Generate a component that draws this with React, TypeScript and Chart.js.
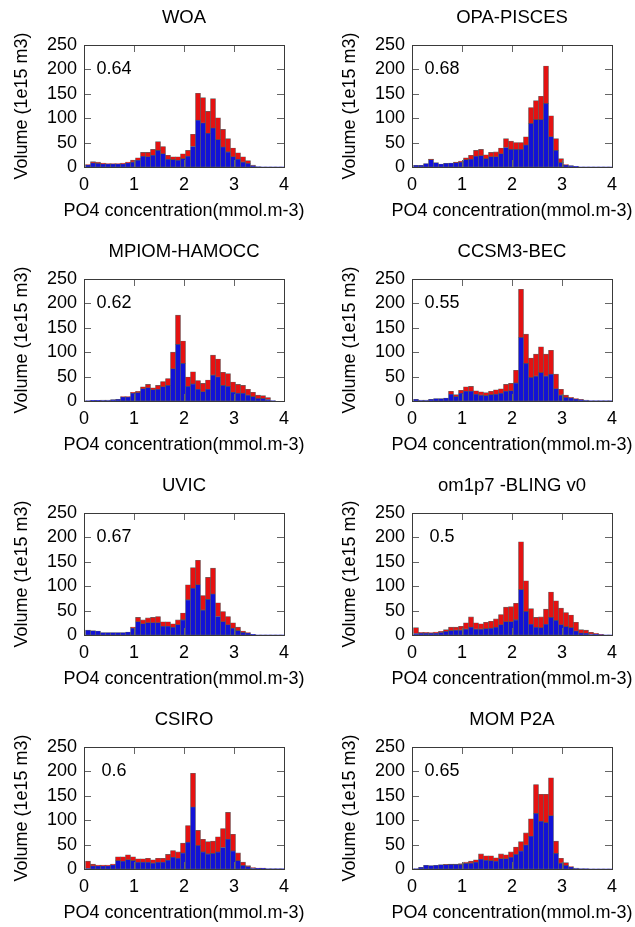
import React, { useEffect, useRef } from "react";
import { Chart, registerables } from "chart.js";

Chart.register(...registerables);

const FONT = "'Liberation Sans', Arial, Helvetica, sans-serif";
const BLUE = "rgb(18,18,215)";
const RED = "rgb(228,18,18)";
const EDGE = "rgba(70,70,70,0.85)";

// bin centres of the histogram (mmol.m-3)
const BIN_CENTERS = [
  0.08, 0.18, 0.28, 0.38, 0.48, 0.58, 0.68, 0.78, 0.88, 0.98,
  1.08, 1.18, 1.28, 1.38, 1.48, 1.58, 1.68, 1.78, 1.88, 1.98,
  2.08, 2.18, 2.28, 2.38, 2.48, 2.58, 2.68, 2.78, 2.88, 2.98,
  3.08, 3.18, 3.28, 3.38, 3.48, 3.58, 3.68, 3.78, 3.88, 3.98,
];

const X_TITLE = "PO4 concentration(mmol.m-3)";
const Y_TITLE = "Volume (1e15 m3)";

// WOA
const WOA_TOTAL = [5, 11, 10, 8, 7, 7, 7, 8, 10, 14, 19, 30, 30, 36, 52, 42, 24, 21, 21, 27, 34, 67, 151, 142, 114, 140, 101, 77, 58, 39, 29, 21, 13, 4, 1, 0.5, 0.5, 0.5, 0.5, 0.5];
const WOA_BLUE = [4, 8, 7, 6, 6, 6, 6, 6, 8, 10, 14, 22, 21, 24, 34, 27, 16, 15, 14, 17, 22, 42, 96, 90, 69, 80, 56, 41, 31, 21, 16, 10, 7, 3, 1, 0.5, 0.5, 0.5, 0.5, 0.5];

// OPA-PISCES
const OPA_TOTAL = [3.5, 3.5, 7, 16, 9, 6, 7.5, 8, 10, 12, 19, 24, 34, 36, 25, 30, 31, 39, 58, 53, 50, 50, 62, 122, 136, 145, 207, 105, 58, 17, 5, 3, 1.5, 0.5, 0.5, 0.5, 0.5, 0.5, 0.5, 0.5];
const OPA_BLUE = [3.5, 3.5, 7, 15, 9, 6, 7.5, 8, 9, 10, 15, 16, 22, 23, 17, 21, 21, 27, 40, 36, 36, 36, 45, 89, 97, 97, 130, 62, 34, 9, 4, 3, 1.5, 0.5, 0.5, 0.5, 0.5, 0.5, 0.5, 0.5];

// MPIOM-HAMOCC
const MPIOM_TOTAL = [1, 1.5, 1.5, 2, 2, 3, 3.5, 9, 9, 18, 20, 29, 34, 27, 32, 40, 46, 100, 176, 123, 49, 60, 42, 36, 43, 94, 86, 59, 56, 39, 34, 32, 24, 18, 12, 11, 7, 1, 0, 0];
const MPIOM_BLUE = [1, 1.5, 1.5, 2, 2, 3, 3.5, 8, 8, 16, 17, 25, 27, 23, 24, 29, 32, 66, 116, 77, 30, 35, 24, 19, 24, 53, 49, 32, 30, 18, 16, 16, 12, 9, 5, 5, 3, 1, 0, 0];

// CCSM3-BEC
const CCSM_TOTAL = [3.5, 2, 2, 3.5, 5, 5, 6, 20, 13, 22, 29, 30, 21, 19, 17, 20, 23, 25, 34, 36, 63, 229, 137, 88, 96, 111, 96, 104, 55, 24, 12, 7.5, 5, 3.5, 2, 1, 1, 1, 1, 1];
const CCSM_BLUE = [3.5, 2, 2, 3.5, 5, 5, 6, 14, 9, 16, 20, 20, 14, 12, 11, 13, 14, 16, 20, 21, 37, 130, 77, 48, 51, 58, 51, 55, 25, 12, 7, 6, 4, 3, 2, 1, 1, 1, 1, 1];

// UVIC
const UVIC_TOTAL = [10, 9, 8, 5, 5, 5, 5, 5, 6, 16, 36, 31, 35, 36, 38, 27, 27, 23, 31, 45, 103, 138, 153, 81, 118, 137, 66, 48, 38, 25, 16, 8, 5, 1.5, 0.5, 0.5, 0.5, 0.5, 0.5, 0.5];
const UVIC_BLUE = [10, 9, 8, 5, 5, 5, 5, 5, 6, 14, 27, 23, 25, 25, 25, 18, 18, 16, 21, 31, 72, 96, 103, 51, 73, 84, 38, 27, 21, 14, 9, 5, 4, 1.5, 0.5, 0.5, 0.5, 0.5, 0.5, 0.5];

// om1p7 -BLING v0
const BLING_TOTAL = [15, 5.5, 5.5, 5, 6, 7.5, 11, 16, 16, 18, 25, 37, 25, 23, 26, 28, 33, 42, 57, 58, 65, 191, 111, 54, 36, 37, 53, 88, 70, 55, 46, 41, 26, 11, 10, 5.5, 3.5, 1.5, 0.5, 0.5];
const BLING_BLUE = [3, 3.5, 3.5, 3.5, 3.5, 5, 7, 9, 10, 10, 12, 16, 12, 12, 13, 14, 16, 21, 27, 27, 31, 93, 48, 22, 16, 15, 22, 36, 30, 21, 17, 15, 8, 4, 3.5, 2, 1.5, 1, 0.5, 0.5];

// CSIRO
const CSIRO_TOTAL = [16, 10, 8, 8, 8, 10, 25, 25, 29, 25, 21, 21, 22, 19, 22, 22, 30, 38, 35, 53, 89, 196, 79, 61, 56, 57, 66, 83, 116, 71, 33, 14, 7, 3, 2, 2, 1, 1, 1, 1];
const CSIRO_BLUE = [1, 6, 6, 6, 6, 8, 17, 16, 19, 17, 14, 14, 14, 12, 14, 14, 18, 24, 22, 33, 55, 127, 48, 35, 31, 32, 35, 44, 61, 37, 17, 7, 5, 2, 1.5, 1.5, 1, 1, 1, 1];

// MOM P2A
const MOM_TOTAL = [1, 3.5, 7.5, 7, 7.5, 9, 9.5, 10, 10, 11, 14, 16, 19, 31, 27, 27, 23, 31, 29, 35, 45, 56, 74, 103, 173, 153, 153, 187, 57, 22, 13, 5, 2, 0.7, 0.7, 0.5, 0.5, 0.5, 0.5, 0.5];
const MOM_BLUE = [1, 3.5, 7.5, 7, 7.5, 9, 9, 9.5, 9.5, 9.5, 11.5, 12, 14, 20, 18, 17, 16, 21, 21, 24, 30, 37, 49, 67, 114, 98, 95, 109, 32, 12, 7, 4, 2, 0.7, 0.7, 0.5, 0.5, 0.5, 0.5, 0.5];

const TITLES = ["WOA", "OPA-PISCES", "MPIOM-HAMOCC", "CCSM3-BEC", "UVIC", "om1p7 -BLING v0", "CSIRO", "MOM P2A"];
const SCORES = ["0.64", "0.68", "0.62", "0.55", "0.67", "0.5", "0.6", "0.65"];
const TOTALS = [WOA_TOTAL, OPA_TOTAL, MPIOM_TOTAL, CCSM_TOTAL, UVIC_TOTAL, BLING_TOTAL, CSIRO_TOTAL, MOM_TOTAL];
const BLUES = [WOA_BLUE, OPA_BLUE, MPIOM_BLUE, CCSM_BLUE, UVIC_BLUE, BLING_BLUE, CSIRO_BLUE, MOM_BLUE];

const SCORE_X = 0.6;
const SCORE_Y = 200;

const PLOT_LEFT = 84;
const PLOT_RIGHT = 284;
const PLOT_BOTTOM = 167;
const CANVAS_H = 225;
const X_TITLE_Y = 211;

type PanelProps = {
  title: string;
  score: string;
  blue: number[];
  total: number[];
  left: number;
  top: number;
  width: number;
};

function Panel({ title, score, blue, total, left, top, width }: PanelProps) {
  const ref = useRef<HTMLCanvasElement | null>(null);

  useEffect(() => {
    if (!ref.current) return;
    const font = { family: FONT, size: 18, weight: "normal" as const };

    const framePlugin = {
      id: "frameTicks",
      afterDraw(chart: any) {
        const { ctx, chartArea } = chart;
        const { left: l, right: r, top: t, bottom: b } = chartArea;
        const xs = chart.scales.x;
        const ys = chart.scales.y;
        const tl = 7;
        ctx.save();
        ctx.strokeStyle = "#666";
        ctx.lineWidth = 1;
        ctx.beginPath();
        xs.ticks.forEach((tk: any) => {
          const px = Math.round(xs.getPixelForValue(tk.value)) + 0.5;
          ctx.moveTo(px, b);
          ctx.lineTo(px, b - tl);
          ctx.moveTo(px, t);
          ctx.lineTo(px, t + tl);
        });
        ys.ticks.forEach((tk: any) => {
          const py = Math.round(ys.getPixelForValue(tk.value)) + 0.5;
          ctx.moveTo(l, py);
          ctx.lineTo(l + tl, py);
          ctx.moveTo(r, py);
          ctx.lineTo(r - tl, py);
        });
        ctx.stroke();
        ctx.strokeStyle = "#3a3a3a";
        ctx.strokeRect(Math.round(l) + 0.5, Math.round(t) + 0.5, Math.round(r - l), Math.round(b - t));
        ctx.fillStyle = "#000";
        ctx.font = `18px ${FONT}`;
        ctx.textAlign = "center";
        ctx.textBaseline = "middle";
        ctx.fillText(score, xs.getPixelForValue(SCORE_X), ys.getPixelForValue(SCORE_Y));
        // x-axis title (drawn without width compression)
        ctx.fillText(X_TITLE, (l + r) / 2, X_TITLE_Y);
        ctx.restore();
      },
    };

    const barCommon = {
      borderColor: EDGE,
      borderWidth: 0.6,
      borderSkipped: false,
      grouped: false,
      barPercentage: 1,
      categoryPercentage: 1,
    };

    const chart = new Chart(ref.current, {
      type: "bar",
      data: {
        datasets: [
          {
            ...barCommon,
            label: "lower",
            data: blue.map((v, i) => ({ x: BIN_CENTERS[i], y: v })),
            backgroundColor: BLUE,
          } as any,
          {
            ...barCommon,
            label: "upper",
            data: total.map((v, i) => ({ x: BIN_CENTERS[i], y: [blue[i], v] })),
            backgroundColor: RED,
          } as any,
        ],
      },
      options: {
        animation: false,
        responsive: false,
        events: [],
        layout: { padding: { left: 0, right: width - PLOT_RIGHT, top: 0, bottom: 0 } },
        plugins: {
          legend: { display: false },
          tooltip: { enabled: false },
          title: {
            display: true,
            text: title,
            fullSize: false,
            color: "#000",
            font: { family: FONT, size: 18.5, weight: "normal" },
            padding: { top: 7.2, bottom: 15.6 },
          },
        },
        scales: {
          x: {
            type: "linear",
            min: 0,
            max: 4,
            offset: false,
            grid: { display: false, drawTicks: false },
            border: { display: false },
            ticks: { stepSize: 1, color: "#000", font, padding: 7, maxRotation: 0, autoSkip: false },
            title: { display: false },
            afterFit: (s: any) => {
              s.height = CANVAS_H - PLOT_BOTTOM;
            },
          },
          y: {
            min: 0,
            max: 250,
            grid: { display: false, drawTicks: false },
            border: { display: false },
            ticks: { stepSize: 50, color: "#000", font, padding: 7, autoSkip: false },
            title: { display: true, text: Y_TITLE, color: "#000", font, padding: { top: 11, bottom: 0 } },
            afterFit: (s: any) => {
              s.width = PLOT_LEFT;
            },
          },
        },
      } as any,
      plugins: [framePlugin],
    });
    return () => chart.destroy();
  }, [title, score, blue, total, width]);

  return (
    <canvas
      ref={ref}
      width={width}
      height={CANVAS_H}
      style={{ position: "absolute", left, top, width, height: CANVAS_H, display: "block" }}
    />
  );
}

const COL_LEFT = [0, 328];
const COL_WIDTH = [317, 307];
const ROW_TOP = [0, 234, 468, 702];

export default function App() {
  return (
    <div
      style={{
        position: "absolute",
        left: 0,
        top: 0,
        width: 635,
        height: 927,
        overflow: "hidden",
        background: "#fff",
      }}
    >
      {TITLES.map((t, i) => (
        <Panel
          key={t}
          title={t}
          score={SCORES[i]}
          blue={BLUES[i]}
          total={TOTALS[i]}
          left={COL_LEFT[i % 2]}
          top={ROW_TOP[Math.floor(i / 2)]}
          width={COL_WIDTH[i % 2]}
        />
      ))}
    </div>
  );
}
